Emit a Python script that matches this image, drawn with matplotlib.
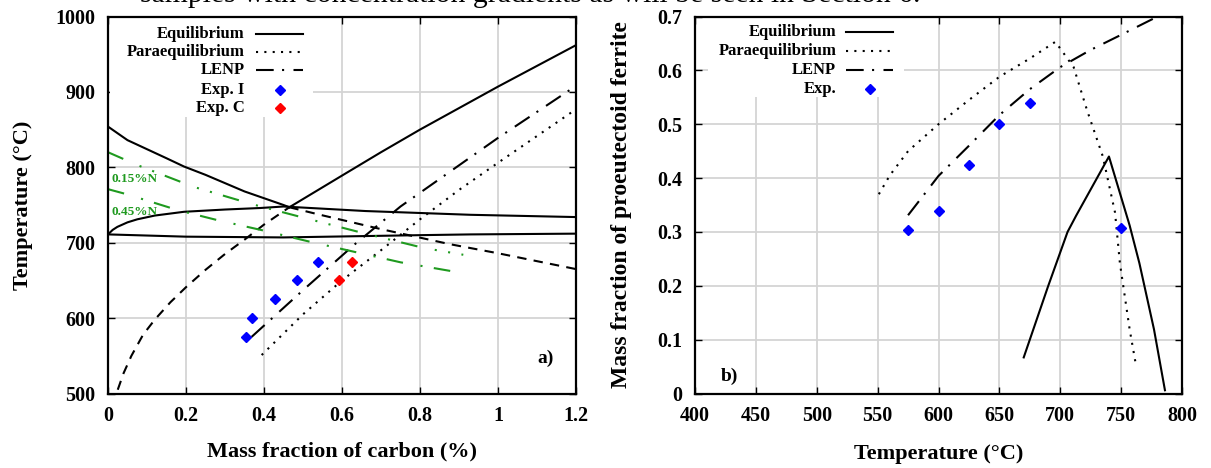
import matplotlib
matplotlib.use("Agg")
import matplotlib.pyplot as plt
from matplotlib.patches import Rectangle

plt.rcParams['font.family'] = ['Liberation Serif', 'DejaVu Serif']
plt.rcParams['font.weight'] = 'bold'
plt.rcParams['axes.labelweight'] = 'bold'

# ---- panel a) : Fe-C(-N) phase diagram ----
x_ticks_a = [0, 0.2, 0.4, 0.6, 0.8, 1.0, 1.2]
x_ticklabels_a = ['0', '0.2', '0.4', '0.6', '0.8', '1', '1.2']
y_ticks_a = [500, 600, 700, 800, 900, 1000]

# solid equilibrium boundaries
eq_ag_x = [0.0, 0.025, 0.05, 0.1, 0.15, 0.195, 0.25, 0.3, 0.35, 0.4, 0.45, 0.465]
eq_ag_T = [854, 845, 836, 824, 812, 801, 790, 779, 768, 759, 750, 747]
eq_acm_x = [0.465, 0.6, 0.7, 0.8, 1.0, 1.2]
eq_acm_T = [747, 789, 820, 850, 907, 962]
eq_up_x = [0.0, 0.012, 0.024, 0.05, 0.075, 0.12, 0.195, 0.3, 0.39, 0.45, 0.66, 0.93, 1.2]
eq_up_T = [711, 717, 721, 727, 731, 736, 741, 744, 746, 748, 742, 737, 734]
eq_lo_x = [0.0, 0.2, 0.45, 0.8, 0.93, 1.2]
eq_lo_T = [711, 708, 707, 710, 711, 712]

# dashed metastable extensions
ext_left_x = [0.025, 0.04, 0.06, 0.09, 0.12, 0.16, 0.2, 0.25, 0.3, 0.35, 0.4, 0.465]
ext_left_T = [505, 527, 550, 578, 598, 621, 641, 664, 685, 704, 724, 747]
ext_right_x = [0.465, 0.544, 0.7, 0.877, 1.0, 1.2]
ext_right_T = [747, 737, 718, 698, 686, 665]

# paraequilibrium and LENP
para_a_x = [0.394, 0.5, 0.6, 0.7, 0.8, 0.9, 1.0, 1.2]
para_a_T = [551, 605, 650, 690, 731, 770, 806, 877]
lenp_a_x = [0.368, 0.5, 0.633, 0.75, 1.0, 1.2]
lenp_a_T = [575, 637, 698, 748, 839, 908]

# nitrogen curves
n015_x = [0.0, 0.075, 0.22, 0.37, 0.51, 0.66, 0.81, 0.911]
n015_T = [820, 803, 774, 751, 732, 712, 693, 684]
n045_x = [0.0, 0.05, 0.18, 0.28, 0.4, 0.52, 0.75, 0.895]
n045_T = [771, 764, 743, 730, 716, 701, 674, 661]

expI_x = [0.354, 0.37, 0.427, 0.484, 0.538]
expI_T = [575, 600, 625, 650, 675]
expC_x = [0.592, 0.625]
expC_T = [650, 675]

# ---- panel b) : ferrite fraction vs temperature ----
x_ticks_b = [400, 450, 500, 550, 600, 650, 700, 750, 800]
y_ticks_b = [0, 0.1, 0.2, 0.3, 0.4, 0.5, 0.6, 0.7]
y_ticklabels_b = ['0', '0.1', '0.2', '0.3', '0.4', '0.5', '0.6', '0.7']

eq_b_T = [670, 690, 706, 713, 740, 757, 765, 777, 786]
eq_b_f = [0.067, 0.199, 0.3, 0.33, 0.44, 0.312, 0.242, 0.119, 0.006]
para_b_T = [551, 560, 575, 600, 625, 650, 675, 696, 711, 722, 735, 745, 749, 757, 762]
para_b_f = [0.37, 0.405, 0.45, 0.5, 0.545, 0.588, 0.622, 0.653, 0.606, 0.526, 0.44,
            0.336, 0.242, 0.119, 0.055]
lenp_b_T = [575, 600, 625, 650, 675, 700, 725, 750, 780]
lenp_b_f = [0.331, 0.404, 0.46, 0.517, 0.565, 0.606, 0.638, 0.666, 0.70]
exp_b_T = [575, 600, 625, 650, 675, 750]
exp_b_f = [0.303, 0.338, 0.425, 0.5, 0.54, 0.308]

LW = 1.5
DOT = (1, 3)
DASH = (4.5, 3.5)
DASHDOT = (8.5, 4, 1, 4.5)
GREEN = '#1f9a1f'
BLUE = '#0000ff'
RED = '#ff0000'

fig = plt.figure(figsize=(12.11, 4.68), dpi=100)
ax1 = fig.add_axes([108 / 1211, 1 - 393.5 / 468, 468 / 1211, 377 / 468])
ax2 = fig.add_axes([695 / 1211, 1 - 393.5 / 468, 487 / 1211, 377 / 468])


def style_axes(ax):
    ax.set_axisbelow(True)
    ax.grid(True, color='#d4d4d4', linewidth=1.3)
    ax.tick_params(direction='in', top=True, right=True, length=5, width=1,
                   labelsize=14.5, pad=9)
    for s in ax.spines.values():
        s.set_linewidth(1.6)


def draw_key(ax, entries, x_text, x0, x1, ys, box):
    ax.add_patch(Rectangle((box[0], box[1]), box[2], box[3], transform=ax.transAxes,
                           facecolor='white', edgecolor='none', zorder=1.5))
    for (label, kw), y in zip(entries, ys):
        ax.text(x_text, y, label, transform=ax.transAxes, ha='right', va='center',
                fontsize=12, fontweight='bold', zorder=3)
        if 'marker' in kw:
            ax.plot([(x0 + x1) / 2], [y], transform=ax.transAxes, linestyle='none',
                    zorder=3, **kw)
        else:
            ax.plot([x0, x1], [y, y], transform=ax.transAxes, color='black',
                    lw=LW, zorder=3, **kw)


# ---------- panel a ----------
style_axes(ax1)
ax1.plot(eq_ag_x, eq_ag_T, color='black', lw=LW)
ax1.plot(eq_acm_x, eq_acm_T, color='black', lw=LW)
ax1.plot(eq_up_x, eq_up_T, color='black', lw=LW)
ax1.plot(eq_lo_x, eq_lo_T, color='black', lw=LW)
ax1.plot(ext_left_x, ext_left_T, color='black', lw=LW, dashes=DASH)
ax1.plot(ext_right_x, ext_right_T, color='black', lw=LW, dashes=DASH)
ax1.plot(para_a_x, para_a_T, color='black', lw=LW, dashes=DOT)
ax1.plot(lenp_a_x, lenp_a_T, color='black', lw=LW, dashes=DASHDOT)
ax1.plot(n015_x, n015_T, color=GREEN, lw=LW, dashes=(8, 8.5, 1, 5.5, 1, 5.5))
ax1.plot(n045_x, n045_T, color=GREEN, lw=LW, dashes=(8, 8.5, 1, 5.5))
ax1.plot(expI_x, expI_T, linestyle='none', marker='D', ms=5.5, color=BLUE)
ax1.plot(expC_x, expC_T, linestyle='none', marker='D', ms=5.5, color=RED)

ax1.text(0.009, 784, '0.15%N', color=GREEN, fontsize=9.5, fontweight='bold',
         va='center', ha='left')
ax1.text(0.009, 741, '0.45%N', color=GREEN, fontsize=9.5, fontweight='bold',
         va='center', ha='left')
ax1.text(1.121, 546, 'a)', fontsize=14, fontweight='bold', ha='center', va='center')

ax1.set_xlim(0, 1.2)
ax1.set_ylim(500, 1000)
ax1.set_xticks(x_ticks_a)
ax1.set_xticklabels(x_ticklabels_a)
ax1.set_yticks(y_ticks_a)
ax1.set_xlabel('Mass fraction of carbon (%)', fontsize=16)
ax1.set_ylabel('Temperature (°C)', fontsize=16)
ax1.xaxis.set_label_coords(0.5, -0.128)
ax1.yaxis.set_label_coords(-0.16, 0.5)

draw_key(ax1,
         [('Equilibrium', {}),
          ('Paraequilibrium', {'dashes': DOT}),
          ('LENP', {'dashes': DASHDOT}),
          ('Exp. I', {'marker': 'D', 'ms': 5.5, 'color': BLUE}),
          ('Exp. C', {'marker': 'D', 'ms': 5.5, 'color': RED})],
         0.292, 0.316, 0.417, [0.953, 0.905, 0.857, 0.806, 0.757],
         (0.004, 0.734, 0.435, 0.262))

# ---------- panel b ----------
style_axes(ax2)
ax2.plot(eq_b_T, eq_b_f, color='black', lw=LW)
ax2.plot(para_b_T, para_b_f, color='black', lw=LW, dashes=DOT)
ax2.plot(lenp_b_T, lenp_b_f, color='black', lw=LW, dashes=DASHDOT)
ax2.plot(exp_b_T, exp_b_f, linestyle='none', marker='D', ms=5.5, color=BLUE)
ax2.text(428, 0.031, 'b)', fontsize=14, fontweight='bold', ha='center', va='center')

ax2.set_xlim(400, 800)
ax2.set_ylim(0, 0.7)
ax2.set_xticks(x_ticks_b)
ax2.set_yticks(y_ticks_b)
ax2.set_yticklabels(y_ticklabels_b)
ax2.set_xlabel('Temperature (°C)', fontsize=16)
ax2.set_ylabel('Mass fraction of proeutectoid ferrite', fontsize=17)
ax2.xaxis.set_label_coords(0.5, -0.135)
ax2.yaxis.set_label_coords(-0.13, 0.5)

draw_key(ax2,
         [('Equilibrium', {}),
          ('Paraequilibrium', {'dashes': DOT}),
          ('LENP', {'dashes': DASHDOT}),
          ('Exp.', {'marker': 'D', 'ms': 5.5, 'color': BLUE})],
         0.29, 0.31, 0.407, [0.958, 0.908, 0.857, 0.809],
         (0.026, 0.787, 0.404, 0.209))

# cut-off caption line from the page above the figure
fig.text(140 / 1211, 1 - 2 / 468, 'samples with concentration gradients as will be seen in Section 6.',
         fontsize=21.4, fontweight='normal', ha='left', va='baseline')

fig.savefig('out.png', dpi=100)
